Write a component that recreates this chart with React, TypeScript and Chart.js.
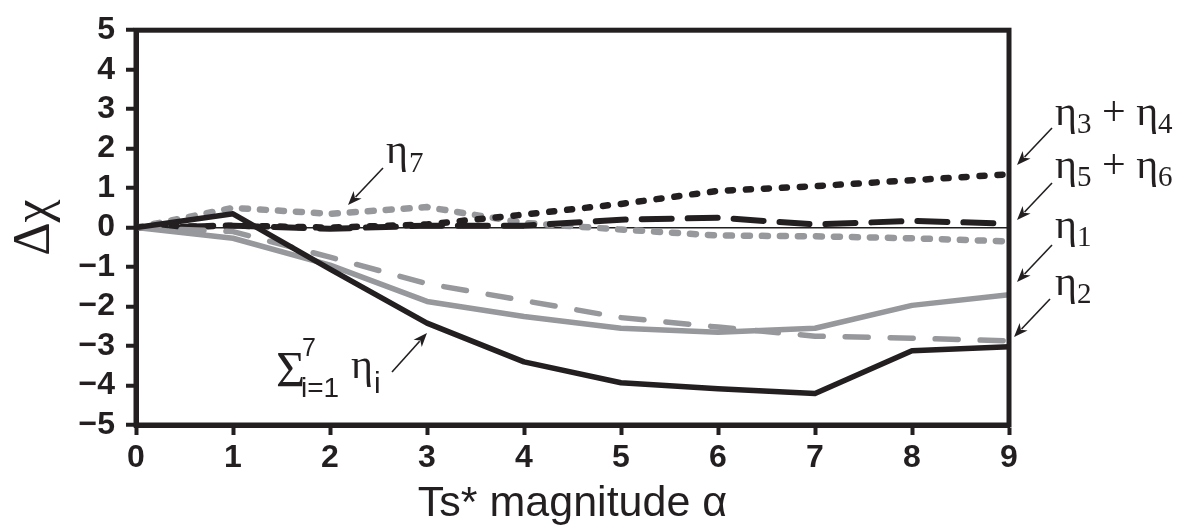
import React, { useEffect, useRef } from 'react';
import { Chart, registerables } from 'chart.js';

Chart.register(...registerables);

// ---- data ----
const alphaValues = [0, 1, 2, 3, 4, 5, 6, 7, 8, 9];
const sumEta = [0, 0.35, -1.05, -2.42, -3.4, -3.93, -4.08, -4.2, -3.12, -3.02];
const eta1 = [0, -0.27, -0.95, -1.87, -2.25, -2.55, -2.65, -2.55, -1.97, -1.7];
const eta2 = [0, -0.1, -0.75, -1.42, -1.85, -2.28, -2.52, -2.75, -2.8, -2.87];
const eta34 = [0, 0.05, 0, 0.08, 0.33, 0.6, 0.93, 1.05, 1.2, 1.35];
const eta56 = [0, 0.05, -0.03, 0.05, 0.05, 0.2, 0.25, 0.08, 0.17, 0.1];
const eta7 = [0, 0.5, 0.35, 0.52, 0.12, -0.05, -0.2, -0.22, -0.27, -0.35];
const xTickValues = [0, 1, 2, 3, 4, 5, 6, 7, 8, 9];
const yTickValues = [-5, -4, -3, -2, -1, 0, 1, 2, 3, 4, 5];
const xTitle = 'Ts* magnitude \u03b1';
const yTitle = '\u0394\u03c7';

const INK = '#231f20';
const GRAY = '#97989c';
const SERIF = "'Liberation Serif', 'DejaVu Serif', serif";
const SANS = "'Liberation Sans', Arial, sans-serif";

type Run = { text: string; font: string; dy?: number; dx?: number };

function drawRuns(ctx: CanvasRenderingContext2D, x: number, y: number, runs: Run[]) {
  let cx = x;
  ctx.textAlign = 'left';
  ctx.textBaseline = 'alphabetic';
  for (const r of runs) {
    ctx.font = r.font;
    cx += r.dx || 0;
    ctx.fillText(r.text, cx, y + (r.dy || 0));
    cx += ctx.measureText(r.text).width;
  }
}

function arrow(ctx: CanvasRenderingContext2D, x1: number, y1: number, x2: number, y2: number) {
  const ang = Math.atan2(y2 - y1, x2 - x1);
  const head = 14;
  const hw = 5.5;
  const bx = x2 - head * Math.cos(ang);
  const by = y2 - head * Math.sin(ang);
  ctx.beginPath();
  ctx.moveTo(x1, y1);
  ctx.lineTo(bx + 3 * Math.cos(ang), by + 3 * Math.sin(ang));
  ctx.lineWidth = 1.6;
  ctx.stroke();
  ctx.beginPath();
  ctx.moveTo(x2, y2);
  ctx.lineTo(bx + hw * Math.sin(ang), by - hw * Math.cos(ang));
  ctx.lineTo(bx + 4 * Math.cos(ang), by + 4 * Math.sin(ang));
  ctx.lineTo(bx - hw * Math.sin(ang), by + hw * Math.cos(ang));
  ctx.closePath();
  ctx.fill();
}

const eta = '\u03b7';
const big = `42px ${SERIF}`;
const sub = `29px ${SERIF}`;

const annotationPlugin = {
  id: 'annotations',
  afterDatasetsDraw(chart: any) {
    const { ctx, chartArea: a } = chart;
    ctx.save();
    ctx.strokeStyle = INK;
    ctx.lineWidth = 5;
    ctx.strokeRect(a.left, a.top, a.right - a.left, a.bottom - a.top);
    ctx.restore();
  },
  afterDraw(chart: any) {
    const { ctx } = chart;
    ctx.save();
    ctx.fillStyle = INK;
    ctx.strokeStyle = INK;

    // eta7
    drawRuns(ctx, 386, 163, [
      { text: eta, font: big },
      { text: '7', font: sub, dy: 9, dx: 1 },
    ]);
    arrow(ctx, 383, 168, 348, 205);

    // right-side labels
    drawRuns(ctx, 1055, 125, [
      { text: eta, font: big },
      { text: '3', font: sub, dy: 8 },
      { text: ' + ', font: big },
      { text: eta, font: big },
      { text: '4', font: sub, dy: 8 },
    ]);
    arrow(ctx, 1052, 128, 1017, 165);

    drawRuns(ctx, 1055, 178, [
      { text: eta, font: big },
      { text: '5', font: sub, dy: 8 },
      { text: ' + ', font: big },
      { text: eta, font: big },
      { text: '6', font: sub, dy: 8 },
    ]);
    arrow(ctx, 1052, 183, 1017, 220);

    drawRuns(ctx, 1055, 238, [
      { text: eta, font: big },
      { text: '1', font: sub, dy: 8 },
    ]);
    arrow(ctx, 1052, 245, 1017, 282);

    drawRuns(ctx, 1055, 295, [
      { text: eta, font: big },
      { text: '2', font: sub, dy: 8 },
    ]);
    arrow(ctx, 1050, 299, 1014, 337);

    // sum label
    drawRuns(ctx, 276, 386, [{ text: '\u03a3', font: `50px ${SERIF}` }]);
    drawRuns(ctx, 302, 356, [{ text: '7', font: `25px ${SANS}` }]);
    drawRuns(ctx, 301, 397, [{ text: 'i=1', font: `28px ${SANS}` }]);
    drawRuns(ctx, 351, 378, [{ text: eta, font: big }]);
    drawRuns(ctx, 374, 393, [{ text: 'i', font: `30px ${SANS}` }]);
    arrow(ctx, 392, 372, 427, 333);

    ctx.restore();
  },
};

function series(values: number[]) {
  return alphaValues.map((x, i) => ({ x, y: values[i] }));
}

export default function App() {
  const canvasRef = useRef<HTMLCanvasElement | null>(null);

  useEffect(() => {
    const canvas = canvasRef.current;
    if (!canvas) return;
    const tickFont = { family: SANS, size: 32, weight: 'bold' as const };
    const chart = new Chart(canvas, {
      type: 'line',
      data: {
        datasets: [
          {
            label: 'sum',
            data: series(sumEta),
            borderColor: INK,
            borderWidth: 5.5,
          },
          {
            label: 'eta1',
            data: series(eta1),
            borderColor: GRAY,
            borderWidth: 5.5,
          },
          {
            label: 'eta2',
            data: series(eta2),
            borderColor: GRAY,
            borderWidth: 5.5,
            borderDash: [23, 22],
            borderCapStyle: 'round',
          },
          {
            label: 'eta5+eta6',
            data: series(eta56),
            borderColor: INK,
            borderWidth: 6,
            borderDash: [30, 16],
            borderCapStyle: 'round',
          },
          {
            label: 'eta3+eta4',
            data: series(eta34),
            borderColor: INK,
            borderWidth: 6.5,
            borderDash: [5, 13],
            borderCapStyle: 'round',
          },
          {
            label: 'eta7',
            data: series(eta7),
            borderColor: GRAY,
            borderWidth: 6.5,
            borderDash: [6, 12],
            borderCapStyle: 'round',
          },
        ] as any,
      },
      options: {
        animation: false,
        responsive: false,
        devicePixelRatio: 1,
        events: [],
        elements: {
          point: { radius: 0 },
          line: { tension: 0, borderJoinStyle: 'round' },
        },
        layout: { padding: { left: 0, top: 25, right: 178, bottom: 0 } },
        plugins: {
          legend: { display: false },
          tooltip: { enabled: false },
          title: { display: false },
        },
        scales: {
          x: {
            type: 'linear',
            min: 0,
            max: 9,
            afterFit: (s: any) => {
              s.height = 107;
            },
            afterBuildTicks: (s: any) => {
              s.ticks = xTickValues.map((v) => ({ value: v }));
            },
            ticks: {
              font: tickFont,
              color: INK,
              padding: 4,
              maxRotation: 0,
              autoSkip: false,
              callback: (v: any) => String(v),
            },
            grid: {
              drawOnChartArea: false,
              drawTicks: true,
              tickLength: 10,
              tickWidth: 4,
              tickColor: INK,
            },
            border: { display: true, color: INK, width: 5 },
            title: {
              display: true,
              text: xTitle,
              color: INK,
              font: { family: SANS, size: 43 },
              padding: { top: 0, bottom: 2 },
            },
          },
          y: {
            type: 'linear',
            min: -5,
            max: 5,
            afterFit: (s: any) => {
              s.width = 136;
            },
            afterBuildTicks: (s: any) => {
              s.ticks = yTickValues.map((v) => ({ value: v }));
            },
            ticks: {
              font: tickFont,
              color: INK,
              padding: 11,
              autoSkip: false,
              callback: (v: any) => (Number(v) < 0 ? '\u2212' + Math.abs(Number(v)) : String(v)),
            },
            grid: {
              drawOnChartArea: true,
              drawTicks: true,
              tickLength: 10,
              tickWidth: 4,
              tickColor: INK,
              lineWidth: 1.5,
              color: (c: any) => (c.tick && c.tick.value === 0 ? INK : 'rgba(0,0,0,0)'),
            },
            border: { display: true, color: INK, width: 5 },
            title: {
              display: true,
              text: yTitle,
              color: INK,
              font: { family: SERIF, size: 52 },
              padding: { top: 4, bottom: 0 },
            },
          },
        },
      },
      plugins: [annotationPlugin],
    } as any);
    return () => chart.destroy();
  }, []);

  return (
    <div style={{ position: 'absolute', left: 0, top: 0, width: 1187, height: 532, background: '#fff' }}>
      <canvas ref={canvasRef} width={1187} height={532} style={{ display: 'block', width: 1187, height: 532 }} />
    </div>
  );
}
